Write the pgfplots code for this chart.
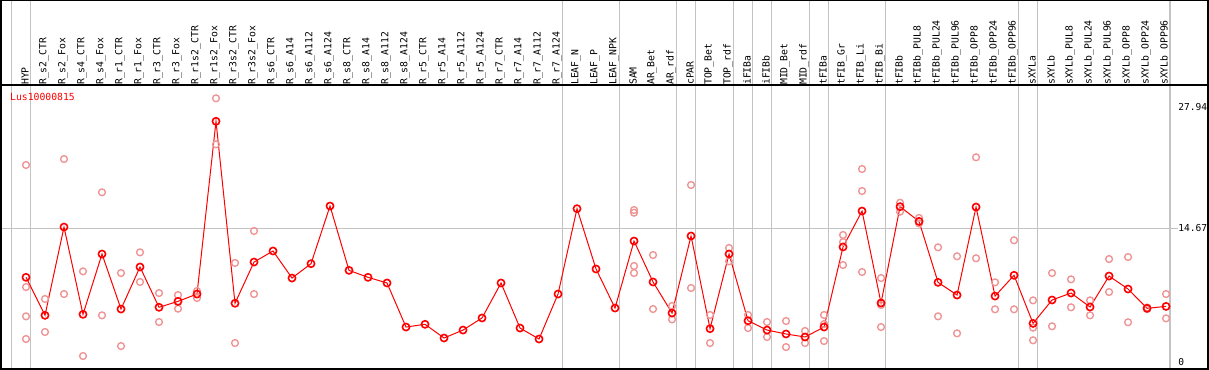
\documentclass[border=0pt]{standalone}
\usepackage{pgfplots}
\pgfplotsset{compat=1.18}
\usepackage{fontspec}
\setmainfont{DejaVu Sans Mono}
\setmonofont{DejaVu Sans Mono}
\definecolor{pinkrep}{RGB}{238,150,150}
\definecolor{sepgray}{RGB}{195,195,195}
\begin{document}
\begin{tikzpicture}
\useasboundingbox (-1bp,-1bp) rectangle (1208bp,369bp);
\draw[sepgray, line width=1.2bp] (10.2bp,0) -- (10.2bp,369bp);
\begin{axis}[
  at={(0,0)}, anchor=south west,
  scale only axis, width=1207bp, height=284bp,
  xmin=-1.316, xmax=62.21, ymin=-0.72, ymax=30.35,
  axis line style={draw=none},
  xtick={0,...,60},
  xticklabels={HYP,R\_s2\_CTR,R\_s2\_Fox,R\_s4\_CTR,R\_s4\_Fox,R\_r1\_CTR,R\_r1\_Fox,R\_r3\_CTR,R\_r3\_Fox,R\_r1s2\_CTR,R\_r1s2\_Fox,R\_r3s2\_CTR,R\_r3s2\_Fox,R\_s6\_CTR,R\_s6\_A14,R\_s6\_A112,R\_s6\_A124,R\_s8\_CTR,R\_s8\_A14,R\_s8\_A112,R\_s8\_A124,R\_r5\_CTR,R\_r5\_A14,R\_r5\_A112,R\_r5\_A124,R\_r7\_CTR,R\_r7\_A14,R\_r7\_A112,R\_r7\_A124,LEAF\_N,LEAF\_P,LEAF\_NPK,SAM,AR\_Bet,AR\_rdf,cPAR,TOP\_Bet,TOP\_rdf,iFIBa,iFIBb,MID\_Bet,MID\_rdf,tFIBa,tFIB\_Gr,tFIB\_Li,tFIB\_Bi,tFIBb,tFIBb\_PUL8,tFIBb\_PUL24,tFIBb\_PUL96,tFIBb\_OPP8,tFIBb\_OPP24,tFIBb\_OPP96,sXYLa,sXYLb,sXYLb\_PUL8,sXYLb\_PUL24,sXYLb\_PUL96,sXYLb\_OPP8,sXYLb\_OPP24,sXYLb\_OPP96},
  xticklabel pos=upper,
  xticklabel style={rotate=90, anchor=west, inner sep=0pt, font=\fontsize{9.8}{10}\selectfont, yshift=1bp},
  ytick={0,14.67,27.94},
  yticklabels={0,14.67,27.94},
  yticklabel pos=right,
  yticklabel style={anchor=west, xshift=-30bp, inner sep=0pt, font=\fontsize{9.6}{10}\selectfont},
  major tick length=0pt,
  /pgf/number format/assume math mode=true,
  clip=false,
]
% separators
\foreach \s in {0.25,28.23,31.23,34.23,35.25,37.25,38.25,39.25,41.25,42.25,45.25,52.23,53.23,60.21} {
  \edef\tmp{\noexpand\draw[sepgray, line width=1.2bp] (axis cs:\s,-0.72) -- ([yshift=85bp]axis cs:\s,30.35);}
  \tmp
}
\draw[sepgray, line width=1.2bp] (axis cs:-1.316,14.67) -- (axis cs:60.63,14.67);
% frame
\draw[black, line width=1.5bp] (rel axis cs:0,0) rectangle ([yshift=85bp]rel axis cs:1,1);
\draw[black, line width=1.5bp] (rel axis cs:0,1) -- (rel axis cs:1,1);
\node[anchor=west, text=red, inner sep=0pt, font=\fontsize{9.8}{10}\selectfont] at ([xshift=9bp,yshift=-12bp]rel axis cs:0,1) {Lus10000815};
% replicates
\addplot[only marks, mark=o, mark size=3.4bp, mark options={pinkrep, line width=1.4bp}] coordinates {
(0,21.60) (0,8.25) (0,5.04) (0,2.56)
(1,6.94) (1,3.33)
(2,22.25) (2,7.48)
(3,9.96) (3,0.70)
(4,18.61) (4,5.15)
(5,9.78) (5,1.79)
(6,12.04) (6,8.80)
(7,7.59) (7,4.42)
(8,7.37) (8,5.88)
(9,7.81) (9,7.05)
(10,28.89) (10,23.86)
(11,10.88) (11,2.12)
(12,14.38) (12,7.48)
(32,16.67) (32,16.38) (32,10.55) (32,9.78)
(33,11.75) (33,5.84)
(34,6.17) (34,4.71)
(35,19.41) (35,8.14)
(36,5.19) (36,2.12)
(37,12.52) (37,11.06)
(38,5.19) (38,3.76)
(39,4.42) (39,2.78)
(40,4.53) (40,1.68)
(41,3.44) (41,2.12)
(42,5.19) (42,4.20) (42,2.34)
(43,13.94) (43,13.17) (43,10.66)
(44,21.16) (44,18.75) (44,9.89)
(45,9.23) (45,6.28) (45,3.87)
(46,17.47) (46,16.49)
(47,15.80) (47,15.21)
(48,12.59) (48,5.04)
(49,11.61) (49,3.18)
(50,22.44) (50,11.39)
(51,8.76) (51,5.81)
(52,13.36) (52,5.81)
(53,6.79) (53,3.80) (53,2.42)
(54,9.78) (54,3.95)
(55,9.09) (55,6.03)
(56,6.79) (56,5.15)
(57,11.31) (57,7.70)
(58,11.53) (58,4.39)
(59,5.84) (59,6.00)
(60,7.48) (60,4.82)
};
% mean
\addplot[red, line width=1bp, mark=o, mark size=3.6bp, mark options={red, line width=1.6bp}] coordinates {
(0,9.31) (1,5.15) (2,14.81) (3,5.26) (4,11.86) (5,5.84) (6,10.44) (7,6.03) (8,6.68) (9,7.48)
(10,26.38) (11,6.47) (12,10.98) (13,12.19) (14,9.23) (15,10.80) (16,17.11) (17,10.07) (18,9.31) (19,8.69)
(20,3.87) (21,4.17) (22,2.67) (23,3.54) (24,4.86) (25,8.69) (26,3.76) (27,2.56) (28,7.48) (29,16.82)
(30,10.22) (31,5.95) (32,13.28) (33,8.80) (34,5.40) (35,13.83) (36,3.69) (37,11.86) (38,4.56) (39,3.54)
(40,3.11) (41,2.78) (42,3.87) (43,12.63) (44,16.56) (45,6.50) (46,17.04) (47,15.43) (48,8.76) (49,7.37)
(50,17.00) (51,7.26) (52,9.53) (53,4.27) (54,6.83) (55,7.59) (56,6.06) (57,9.45) (58,8.03) (59,5.92)
(60,6.13)
};
\end{axis}
\end{tikzpicture}
\end{document}
